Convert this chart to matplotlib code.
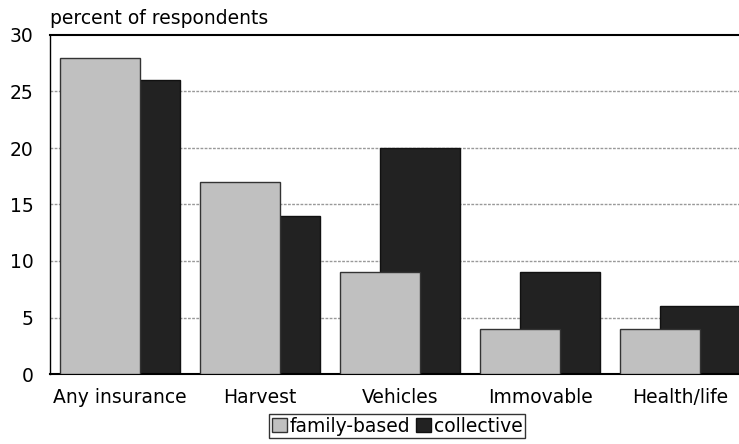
import matplotlib.pyplot as plt
import numpy as np

categories = ['Any insurance', 'Harvest', 'Vehicles', 'Immovable', 'Health/life']
family_based = [28, 17, 9, 4, 4]
collective = [26, 14, 20, 9, 6]
y_ticks = [0, 5, 10, 15, 20, 25, 30]

plt.rcParams['font.family'] = ['DejaVu Sans']

fig = plt.figure(figsize=(7.39, 4.44), dpi=100)
ax = fig.add_axes([50/739, 70/444, 689/739, 339/444])

x = np.arange(len(categories))
bar_w = 4/7
# collective drawn first, family-based overlaps it
ax.bar(x + 1/7, collective, width=bar_w, color='#222222', edgecolor='#111111',
       linewidth=1, zorder=2, label='collective')
ax.bar(x - 1/7, family_based, width=bar_w, color='#c0c0c0', edgecolor='#333333',
       linewidth=1, zorder=3, label='family-based')

ax.set_xlim(-0.5, (739 - 120) / 140)
ax.set_ylim(0, 30)
ax.set_yticks(y_ticks)
ax.set_xticks(x)
ax.set_xticklabels(categories)
ax.tick_params(axis='both', length=0, labelsize=13.5)
ax.tick_params(axis='y', pad=12)
ax.tick_params(axis='x', pad=10)

for v in y_ticks[1:-1]:
    ax.axhline(v, color='#999999', linestyle=(0, (2, 1)), linewidth=1, zorder=1)

ax.spines['right'].set_visible(False)
ax.spines['top'].set_linewidth(1.5)
ax.spines['bottom'].set_linewidth(1.5)
ax.spines['left'].set_linewidth(1)

fig.text(50/739, 1 - 18/444, 'percent of respondents', fontsize=13.5, va='center', ha='left')

handles, labels = ax.get_legend_handles_labels()
leg = fig.legend(handles[::-1], labels[::-1], ncol=2, loc='center',
                 bbox_to_anchor=(397/739, 18/444), fontsize=13.5, frameon=True,
                 fancybox=False, edgecolor='black', handlelength=0.8, handleheight=0.8,
                 handletextpad=0.15, columnspacing=0.3, borderpad=0.15, borderaxespad=0)
leg.get_frame().set_linewidth(1)

fig.savefig('out.png', dpi=100)
